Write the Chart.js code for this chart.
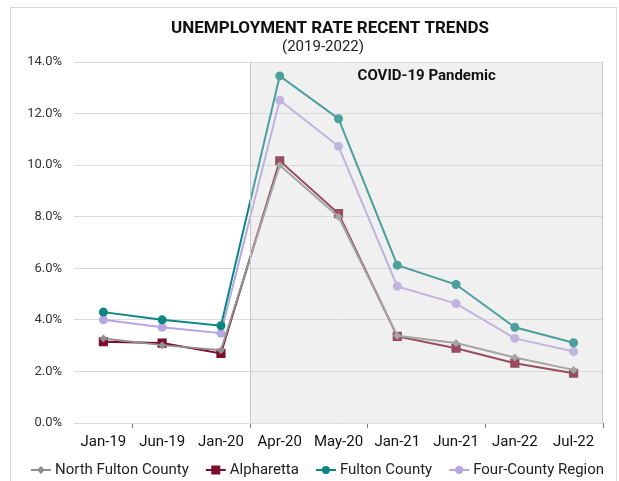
<!DOCTYPE html>
<html>
<head>
<meta charset="utf-8">
<script src="https://cdn.jsdelivr.net/npm/chart.js@4"></script>
<style>
  html, body { margin: 0; padding: 0; background: #fff; }
  #wrap { width: 619px; height: 481px; position: relative; }
</style>
</head>
<body>
<div id="wrap"><canvas id="myChart"></canvas></div>
<script>
const labels = ['Jan-19', 'Jun-19', 'Jan-20', 'Apr-20', 'May-20', 'Jan-21', 'Jun-21', 'Jan-22', 'Jul-22'];
const northFulton = [3.28, 3.02, 2.82, 10.0, 8.0, 3.38, 3.1, 2.54, 2.06];
const alpharetta = [3.15, 3.1, 2.7, 10.17, 8.12, 3.36, 2.9, 2.32, 1.93];
const fultonCounty = [4.3, 4.0, 3.77, 13.46, 11.8, 6.12, 5.37, 3.71, 3.11];
const fourCounty = [4.0, 3.71, 3.48, 12.52, 10.73, 5.3, 4.63, 3.28, 2.77];
const yTicks = [0, 2, 4, 6, 8, 10, 12, 14];
const covidStart = 2.5; // between Jan-20 and Apr-20

const titleText = 'UNEMPLOYMENT RATE RECENT TRENDS';
const subtitleText = '(2019-2022)';

const colors = {
  gray: '#8f8f8f',
  red: '#7d0b2b',
  teal: '#0b8682',
  purple: '#b7a6e4'
};

function marker(ctx, style, x, y, color) {
  ctx.fillStyle = color;
  ctx.beginPath();
  if (style === 'rect') {
    ctx.rect(x - 4.5, y - 4.5, 9, 9);
  } else if (style === 'rectRot') {
    ctx.moveTo(x, y - 4); ctx.lineTo(x + 4, y); ctx.lineTo(x, y + 4); ctx.lineTo(x - 4, y); ctx.closePath();
  } else {
    ctx.arc(x, y, 4, 0, Math.PI * 2);
  }
  ctx.fill();
}

// frame, titles, covid box and legend
const decorations = {
  id: 'decorations',
  beforeDraw(chart) {
    const ctx = chart.ctx;
    ctx.save();
    ctx.strokeStyle = '#d9d9d9';
    ctx.lineWidth = 1;
    ctx.strokeRect(10.5, 7.5, 606, 480);
    ctx.textAlign = 'center';
    ctx.textBaseline = 'middle';
    ctx.fillStyle = '#111';
    ctx.font = 'bold 17px Roboto';
    ctx.fillText(titleText, 330, 29);
    ctx.fillStyle = '#222';
    ctx.font = '15px Roboto';
    ctx.fillText(subtitleText, 323, 47);
    ctx.restore();
  },
  afterDatasetsDraw(chart) {
    const x = chart.scales.x, y = chart.scales.y;
    const left = x.getPixelForValue(covidStart);
    const right = x.right;
    const top = y.getPixelForValue(14);
    const bottom = y.getPixelForValue(0);
    const ctx = chart.ctx;
    ctx.save();
    ctx.fillStyle = 'rgba(210,210,210,0.33)';
    ctx.fillRect(left, top, right - left, bottom - top);
    ctx.strokeStyle = '#c8c8c8';
    ctx.lineWidth = 1;
    ctx.beginPath();
    ctx.moveTo(Math.round(left) + 0.5, top); ctx.lineTo(Math.round(left) + 0.5, bottom);
    ctx.moveTo(Math.round(right) - 0.5, top); ctx.lineTo(Math.round(right) - 0.5, bottom);
    ctx.stroke();
    ctx.fillStyle = '#111';
    ctx.font = 'bold 15px Roboto';
    ctx.textAlign = 'center';
    ctx.textBaseline = 'middle';
    ctx.fillText('COVID-19 Pandemic', (left + right) / 2, top + 14.5);
    ctx.restore();
  },
  afterDraw(chart) {
    const ctx = chart.ctx;
    const sets = chart.data.datasets;
    ctx.save();
    ctx.font = '15px Roboto';
    ctx.textBaseline = 'middle';
    ctx.textAlign = 'left';
    const iconW = 20, textGap = 4, itemGap = 17;
    const widths = sets.map(d => ctx.measureText(d.label).width);
    const total = widths.reduce((a, w) => a + w + iconW + textGap, 0) + itemGap * (sets.length - 1);
    let cx = chart.width / 2 + 8 - total / 2;
    const cy = 470;
    sets.forEach((d, i) => {
      ctx.strokeStyle = d.borderColor;
      ctx.lineWidth = 2;
      ctx.beginPath(); ctx.moveTo(cx, cy); ctx.lineTo(cx + iconW, cy); ctx.stroke();
      marker(ctx, d.pointStyle, cx + iconW / 2, cy, d.borderColor);
      ctx.fillStyle = '#222';
      ctx.fillText(d.label, cx + iconW + textGap, cy);
      cx += iconW + textGap + widths[i] + itemGap;
    });
    ctx.restore();
  }
};

function series(label, data, color, style, radius) {
  return {
    label: label,
    data: data,
    borderColor: color,
    backgroundColor: color,
    borderWidth: 2,
    pointStyle: style,
    pointRadius: radius,
    pointHoverRadius: radius,
    pointBorderWidth: 0,
    tension: 0
  };
}

new Chart(document.getElementById('myChart'), {
  type: 'line',
  data: {
    labels: labels,
    datasets: [
      series('North Fulton County', northFulton, colors.gray, 'rectRot', 4),
      series('Alpharetta', alpharetta, colors.red, 'rect', 6.5),
      series('Fulton County', fultonCounty, colors.teal, 'circle', 4.5),
      series('Four-County Region', fourCounty, colors.purple, 'circle', 4.5)
    ]
  },
  options: {
    responsive: true,
    maintainAspectRatio: false,
    animation: false,
    layout: { padding: { left: 10, right: 16, top: 62, bottom: 28 } },
    plugins: {
      title: { display: false },
      legend: { display: false },
      tooltip: { enabled: false }
    },
    scales: {
      x: {
        offset: true,
        border: { display: false },
        afterFit(scale) { scale.height = 30; },
        grid: {
          offset: true,
          drawOnChartArea: false,
          drawTicks: true,
          tickLength: 5,
          color: c => (c.type !== 'tick' || c.index % 2 === 1) ? '#777' : 'rgba(0,0,0,0)'
        },
        ticks: {
          color: '#111',
          padding: 5,
          maxRotation: 0,
          autoSkip: false,
          font: { family: 'Roboto', size: 15 }
        }
      },
      y: {
        min: yTicks[0],
        max: yTicks[yTicks.length - 1],
        border: { display: false },
        afterFit(scale) { scale.width = 64; },
        grid: { color: '#dcdcdc', drawTicks: false },
        afterBuildTicks(scale) { scale.ticks = yTicks.map(v => ({ value: v })); },
        ticks: {
          color: '#333',
          padding: 12,
          font: { family: 'Roboto', size: 13 },
          callback: v => v.toFixed(1) + '%'
        }
      }
    }
  },
  plugins: [decorations]
});
</script>
</body>
</html>
